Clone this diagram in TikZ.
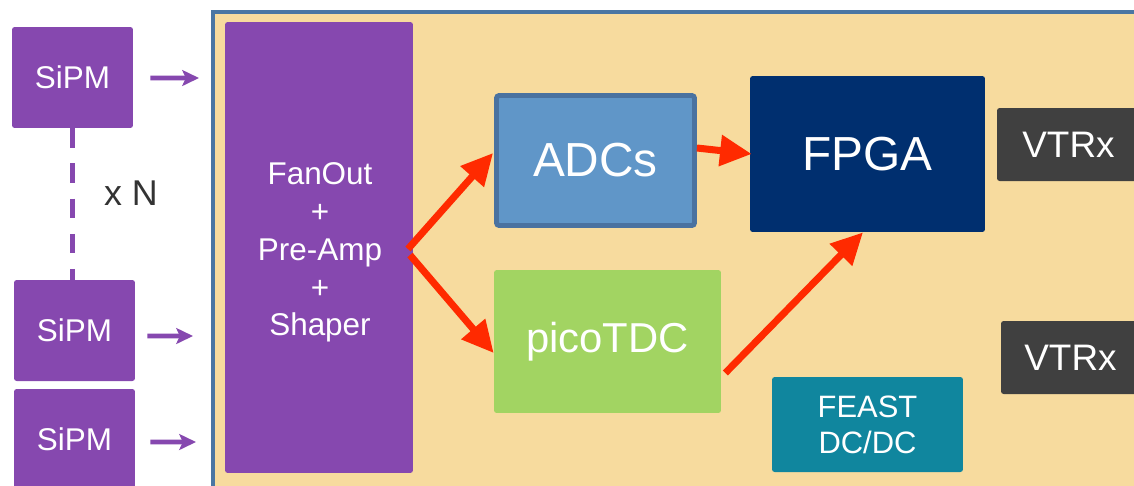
\documentclass[tikz,border=0pt]{standalone}
\usepackage{fontspec}
\setmainfont{Liberation Sans}
\usetikzlibrary{arrows.meta,calc}
\definecolor{purp}{HTML}{8648AF}
\definecolor{board}{HTML}{F7DB9E}
\definecolor{boardline}{HTML}{4A76A3}
\definecolor{adcfill}{HTML}{6096C8}
\definecolor{adcline}{HTML}{4A72A0}
\definecolor{tdcfill}{HTML}{A2D462}
\definecolor{fpgafill}{HTML}{002F6F}
\definecolor{vtrxfill}{HTML}{404040}
\definecolor{feastfill}{HTML}{10869E}
\definecolor{redarrow}{HTML}{FF2A00}
\definecolor{txtgrey}{HTML}{333333}
\tikzset{
  blk/.style={rectangle, rounded corners=1.5pt, inner sep=0pt, text=white, align=center},
  sipm/.style={blk, fill=purp, minimum width=2.42cm, minimum height=2.02cm, font=\fontsize{17.9}{21}\selectfont},
  redarr/.style={draw=redarrow, line width=4pt, -{Triangle[length=18pt,width=17pt]}},
  purparr/.style={draw=purp, line width=2.6pt, -{Stealth[length=9.5pt,width=9pt,inset=2pt]}},
}
\begin{document}
\begin{tikzpicture}[x=0.02cm,y=-0.02cm]
\useasboundingbox (0,0) rectangle (1134,485);
\clip (0,0) rectangle (1134,485);
% board
\draw[fill=board, draw=boardline, line width=2.6pt] (213,12) rectangle (1160,500);
% SiPMs
\node[sipm] (s1) at (72.5,77.5) {SiPM};
\node[sipm] (s2) at (74.5,330.5) {SiPM};
\node[sipm] (s3) at (74.5,439.5) {SiPM};
\draw[purp, line width=2.8pt, dash pattern=on 11pt off 9pt] (s1.south) -- (s1.south |- s2.north);
\node[text=txtgrey, font=\fontsize{20.4}{24}\selectfont] (xn) at (131,193) {x N};
% inputs
\coordinate (i1) at (199,78);
\coordinate (i2) at (193,336);
\coordinate (i3) at (196,442);
\draw[purparr] ($(s1.east)+(17,0.5)$) -- (i1);
\draw[purparr] ($(s2.east)+(12,5.5)$) -- (i2);
\draw[purparr] ($(s3.east)+(15,2.5)$) -- (i3);
% FanOut
\node[blk, fill=purp, minimum width=3.76cm, minimum height=9.02cm] (fan) at (319,247.5) {};
\node[text=white, align=center, inner sep=0pt, font=\fontsize{17.9}{21.5}\selectfont] (fantxt) at (320,252.5) {FanOut\\+\\Pre-Amp\\+\\Shaper};
% ADCs
\node[blk, fill=adcfill, draw=adcline, line width=2.8pt, minimum width=3.96cm, minimum height=2.6cm, font=\fontsize{27.2}{32}\selectfont] (adc) at (595.5,160.5) {ADCs};
% picoTDC
\node[blk, fill=tdcfill, minimum width=4.54cm, minimum height=2.86cm, font=\fontsize{23.8}{28}\selectfont] (tdc) at (607.5,341.5) {picoTDC};
% FPGA
\node[blk, fill=fpgafill, minimum width=4.7cm, minimum height=3.12cm, font=\fontsize{27.2}{32}\selectfont] (fpga) at (867.5,154) {FPGA};
% VTRx
\node[blk, fill=vtrxfill, minimum width=2.86cm, minimum height=1.46cm, font=\fontsize{21}{25}\selectfont] (v1) at (1068.5,144.5) {VTRx};
\node[blk, fill=vtrxfill, minimum width=2.78cm, minimum height=1.46cm, font=\fontsize{21}{25}\selectfont] (v2) at (1070.5,357.5) {VTRx};
% FEAST
\node[blk, fill=feastfill, minimum width=3.82cm, minimum height=1.9cm, font=\fontsize{17.6}{20.5}\selectfont] (feast) at (867.5,424.5) {FEAST\\DC/DC};
% red arrows
\coordinate (split) at (409,252);
\draw[redarr] ($(split)+(-1,-3)$) -- ($(adc.west)+(-1,-7.5)$);
\draw[redarr] ($(split)+(1,3)$) -- ($(tdc.west)+(0,11.5)$);
\draw[redarr] ($(adc.east)+(0,-12.5)$) -- ($(fpga.west)+(2,0)$);
\draw[redarr] ($(tdc.east)+(4,31.5)$) -- ($(fpga.south)+(-4.5,0)$);
\end{tikzpicture}
\end{document}
